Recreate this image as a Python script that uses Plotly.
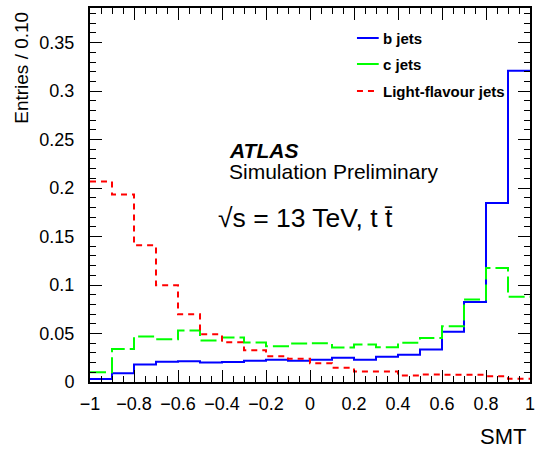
import plotly.graph_objects as go

# ---- data ----
bin_edges = [-1.0, -0.9, -0.8, -0.7, -0.6, -0.5, -0.4, -0.3, -0.2, -0.1, 0.0,
             0.1, 0.2, 0.3, 0.4, 0.5, 0.6, 0.7, 0.8, 0.9, 1.0]
b_jets = [0.003, 0.009, 0.018, 0.021, 0.0214, 0.020, 0.0207, 0.022, 0.0229, 0.022,
          0.023, 0.025, 0.023, 0.026, 0.028, 0.0335, 0.0517, 0.0826, 0.1846, 0.321]
c_jets = [0.010, 0.034, 0.047, 0.044, 0.053, 0.0427, 0.0458, 0.0407, 0.0369, 0.0397,
          0.040, 0.0355, 0.0386, 0.0358, 0.0404, 0.0455, 0.0575, 0.085, 0.1176, 0.0879]
light_jets = [0.2068, 0.1934, 0.1409, 0.0997, 0.0698, 0.0492, 0.041, 0.0328, 0.0266, 0.0239,
              0.0194, 0.0146, 0.0108, 0.0108, 0.0066, 0.0077, 0.0074, 0.0074, 0.006, 0.0033]
series_names = ["b jets", "c jets", "Light-flavour jets"]

FONT = "Liberation Sans, Arial, Helvetica, sans-serif"
W, H = 536, 462
L, R, T, B = 90, 1, 8, 80
PW, PH = W - L - R, H - T - B


def px(xp):
    return (xp - L) / PW


def py(yp):
    return (H - B - yp) / PH


fig = go.Figure()
styles = [
    dict(color="#0000ff", width=2, dash="solid"),
    dict(color="#00ff00", width=2, dash="16px,5px"),
    dict(color="#ff0000", width=2, dash="6px,5px"),
]
legend_dash = ["solid", "solid", "6px,5px"]
for name, vals, st in zip(series_names, [b_jets, c_jets, light_jets], styles):
    fig.add_trace(go.Scatter(
        x=bin_edges, y=list(vals) + [vals[-1]], mode="lines",
        line=dict(shape="hv", **st), name=name, showlegend=False,
        hoverinfo="skip"))

axis_common = dict(
    showgrid=False, zeroline=False, showline=True, linecolor="black", linewidth=2,
    mirror="allticks", ticks="inside", tickcolor="black", tickwidth=1,
    tickfont=dict(family=FONT, size=18, color="black"),
    ticklabeloverflow="allow",
)
fig.update_xaxes(range=[-1, 1], dtick=0.2, tick0=-1, ticklen=12,
                 minor=dict(dtick=0.05, ticks="inside", ticklen=6, tickcolor="black"),
                 ticklabelstandoff=4, **axis_common)
fig.update_yaxes(range=[0, 0.3857], dtick=0.05, tick0=0, ticklen=12,
                 minor=dict(dtick=0.01, ticks="inside", ticklen=6, tickcolor="black"),
                 ticklabelstandoff=10, **axis_common)

ann = []
# axis titles
ann.append(dict(text="SMT", x=px(533), y=py(437), xref="paper", yref="paper",
                xanchor="right", yanchor="middle", showarrow=False,
                font=dict(family=FONT, size=22, color="black")))
ann.append(dict(text="Entries / 0.10", x=px(20), y=py(68), xref="paper", yref="paper",
                xanchor="center", yanchor="middle", textangle=-90, showarrow=False,
                font=dict(family=FONT, size=19, color="black")))
# ATLAS label
ann.append(dict(text="<b><i>ATLAS</i></b>", x=px(229), y=py(150), xref="paper", yref="paper",
                xanchor="left", yanchor="middle", showarrow=False,
                font=dict(family=FONT, size=21, color="black")))
ann.append(dict(text="Simulation Preliminary", x=px(229), y=py(171), xref="paper", yref="paper",
                xanchor="left", yanchor="middle", showarrow=False,
                font=dict(family=FONT, size=21, color="black")))
ann.append(dict(text="\u221as = 13 TeV, t t\u0304", x=px(217), y=py(218), xref="paper", yref="paper",
                xanchor="left", yanchor="middle", showarrow=False,
                font=dict(family=FONT, size=26.5, color="black")))

# legend
leg_y = [38, 64, 91]
shapes = []
for name, st, yy, dsh in zip(series_names, styles, leg_y, legend_dash):
    shapes.append(dict(type="line", xref="paper", yref="paper",
                       x0=px(360), x1=px(382), y0=py(yy), y1=py(yy),
                       line=dict(color=st["color"], width=2, dash=dsh)))
    ann.append(dict(text="<b>%s</b>" % name, x=px(384), y=py(yy), xref="paper", yref="paper",
                    xanchor="left", yanchor="middle", showarrow=False,
                    font=dict(family=FONT, size=15, color="black")))

fig.update_layout(
    width=W, height=H, margin=dict(l=L, r=R, t=T, b=B),
    paper_bgcolor="white", plot_bgcolor="white",
    annotations=ann, shapes=shapes, showlegend=False,
)

fig.write_html("out.html")
